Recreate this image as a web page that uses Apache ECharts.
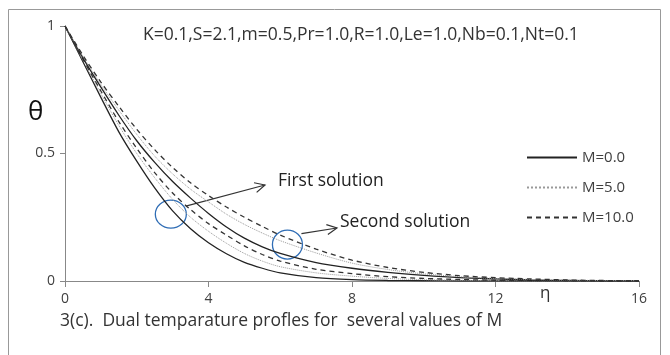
<!DOCTYPE html>
<html>
<head>
<meta charset="utf-8">
<script src="https://cdn.jsdelivr.net/npm/echarts@6/dist/echarts.min.js"></script>
<style>
  html, body { margin: 0; padding: 0; background: #fff; }
  #chart { width: 670px; height: 355px; }
</style>
</head>
<body>
<div id="chart"></div>
<script>
// eta values (x axis)
const eta = [0, 0.5, 1, 1.5, 2, 2.5, 3, 3.5, 4, 4.5, 5, 5.5, 6, 7, 8, 9, 10, 11, 12, 13, 14, 15, 16];

// first solution
const firstM0 = [1, 0.86, 0.72, 0.585, 0.47, 0.365, 0.275, 0.205, 0.15, 0.107, 0.073, 0.05, 0.032, 0.013, 0.005, 0.002, 0.001, 0, 0, 0, 0, 0, 0];
const firstM5 = [1, 0.865, 0.735, 0.61, 0.5, 0.405, 0.32, 0.25, 0.195, 0.148, 0.108, 0.078, 0.056, 0.032, 0.019, 0.01, 0.005, 0.003, 0.001, 0, 0, 0, 0];
const firstM10 = [1, 0.87, 0.745, 0.625, 0.52, 0.425, 0.345, 0.28, 0.225, 0.18, 0.138, 0.104, 0.078, 0.046, 0.029, 0.017, 0.01, 0.006, 0.003, 0.002, 0.001, 0, 0];

// second solution
const secondM0 = [1, 0.875, 0.76, 0.65, 0.55, 0.465, 0.39, 0.325, 0.265, 0.212, 0.168, 0.134, 0.108, 0.072, 0.05, 0.034, 0.022, 0.013, 0.008, 0.004, 0.002, 0.001, 0];
const secondM5 = [1, 0.88, 0.77, 0.67, 0.575, 0.49, 0.42, 0.36, 0.31, 0.262, 0.222, 0.188, 0.158, 0.11, 0.07, 0.045, 0.028, 0.017, 0.01, 0.006, 0.003, 0.002, 0.001];
const secondM10 = [1, 0.885, 0.78, 0.685, 0.595, 0.515, 0.445, 0.385, 0.335, 0.29, 0.25, 0.214, 0.18, 0.125, 0.082, 0.053, 0.034, 0.021, 0.013, 0.008, 0.004, 0.002, 0.001];

const xTicks = [0, 4, 8, 12, 16];
const yTicks = [0, 0.5, 1];
const legendNames = ['M=0.0', 'M=5.0', 'M=10.0'];

const FONT = '"Open Sans", "Noto Sans", sans-serif';
const chart = echarts.init(document.getElementById('chart'), null, { renderer: 'canvas' });

const pairs = (ys) => eta.map((x, i) => [x, ys[i]]);

const styles = {
  'M=0.0': { type: 'solid', color: '#222', width: 1.3 },
  'M=5.0': { type: 'dotted', color: '#999', width: 1 },
  'M=10.0': { type: [5, 4], color: '#333', width: 1.3 }
};

function mkSeries(name, ys) {
  const s = styles[name];
  return {
    name: name,
    type: 'line',
    smooth: 0.3,
    symbol: 'none',
    data: pairs(ys),
    lineStyle: { type: s.type, color: s.color, width: s.width },
    itemStyle: { color: s.color },
    emphasis: { disabled: true },
    silent: true
  };
}

const option = {
  animation: false,
  backgroundColor: '#fff',
  grid: { left: 65, right: 31, top: 26, bottom: 74 },
  legend: {
    data: legendNames,
    orient: 'vertical',
    left: 521,
    top: 145,
    itemWidth: 50,
    itemHeight: 14,
    itemGap: 15,
    itemStyle: { opacity: 0 },
    textStyle: { fontFamily: FONT, fontSize: 15, color: '#404040' }
  },
  xAxis: {
    type: 'value',
    min: 0,
    max: 16,
    interval: 4,
    axisLine: { lineStyle: { color: '#888', width: 1 } },
    axisTick: { show: true, inside: false, length: 6, lineStyle: { color: '#888' } },
    splitLine: { show: false },
    axisLabel: {
      margin: 11,
      fontFamily: FONT, fontSize: 14, color: '#404040',
      customValues: xTicks
    }
  },
  yAxis: {
    type: 'value',
    min: 0,
    max: 1,
    interval: 0.5,
    axisLine: { show: true, lineStyle: { color: '#888', width: 1 } },
    axisTick: { show: true, length: 5, lineStyle: { color: '#888' } },
    splitLine: { show: false },
    axisLabel: {
      margin: 10,
      fontFamily: FONT, fontSize: 14, color: '#404040',
      formatter: (v) => (yTicks.indexOf(v) >= 0 ? String(v) : '')
    }
  },
  series: [
    mkSeries('M=0.0', firstM0),
    mkSeries('M=5.0', firstM5),
    mkSeries('M=10.0', firstM10),
    mkSeries('M=0.0', secondM0),
    mkSeries('M=5.0', secondM5),
    mkSeries('M=10.0', secondM10)
  ]
};

chart.setOption(option);

// annotations placed from data coordinates
const c1 = chart.convertToPixel({ gridIndex: 0 }, [2.95, 0.262]);
const c2 = chart.convertToPixel({ gridIndex: 0 }, [6.2, 0.143]);
const a1s = [c1[0] + 15, c1[1] - 8];
const a1e = [265, 185];
const a2s = [c2[0] + 14, c2[1] - 11];
const a2e = [337, 228];

function arrow(start, end) {
  const dx = end[0] - start[0], dy = end[1] - start[1];
  const len = Math.sqrt(dx * dx + dy * dy);
  const ux = dx / len, uy = dy / len;
  const h = 10, w = 5;
  const p1 = [end[0] - ux * h - uy * w, end[1] - uy * h + ux * w];
  const p2 = [end[0] - ux * h + uy * w, end[1] - uy * h - ux * w];
  return [
    { type: 'line', shape: { x1: start[0], y1: start[1], x2: end[0], y2: end[1] }, style: { stroke: '#333', lineWidth: 1.2 } },
    { type: 'polyline', shape: { points: [p1, end, p2] }, style: { stroke: '#333', lineWidth: 1.2, fill: null } }
  ];
}

const graphics = [
  { type: 'rect', shape: { x: 8.5, y: 9.5, width: 652, height: 360 }, style: { stroke: '#999', lineWidth: 1, fill: null }, silent: true },
  { type: 'text', left: 143, top: 26, style: { text: 'K=0.1,S=2.1,m=0.5,Pr=1.0,R=1.0,Le=1.0,Nb=0.1,Nt=0.1', font: '17.5px ' + FONT, fill: '#333' } },
  { type: 'text', left: 28, top: 100, style: { text: 'θ', font: '26px ' + FONT, fill: '#111' } },
  { type: 'text', left: 540, top: 285, style: { text: 'η', font: '17px ' + FONT, fill: '#333' } },
  { type: 'text', left: 60, top: 312, style: { text: '3(c).  Dual temparature profles for  several values of M', font: '17.5px ' + FONT, fill: '#333' } },
  { type: 'text', left: 278, top: 172, style: { text: 'First solution', font: '17.5px ' + FONT, fill: '#222' } },
  { type: 'text', left: 340, top: 213, style: { text: 'Second solution', font: '17.5px ' + FONT, fill: '#222' } },
  { type: 'ellipse', shape: { cx: c1[0], cy: c1[1], rx: 15.5, ry: 14 }, style: { stroke: '#2f6db5', lineWidth: 1.3, fill: null } },
  { type: 'ellipse', shape: { cx: c2[0], cy: c2[1], rx: 15, ry: 14.5 }, style: { stroke: '#2f6db5', lineWidth: 1.3, fill: null } }
].concat(arrow(a1s, a1e), arrow(a2s, a2e));

chart.setOption({ graphic: graphics });
</script>
</body>
</html>
